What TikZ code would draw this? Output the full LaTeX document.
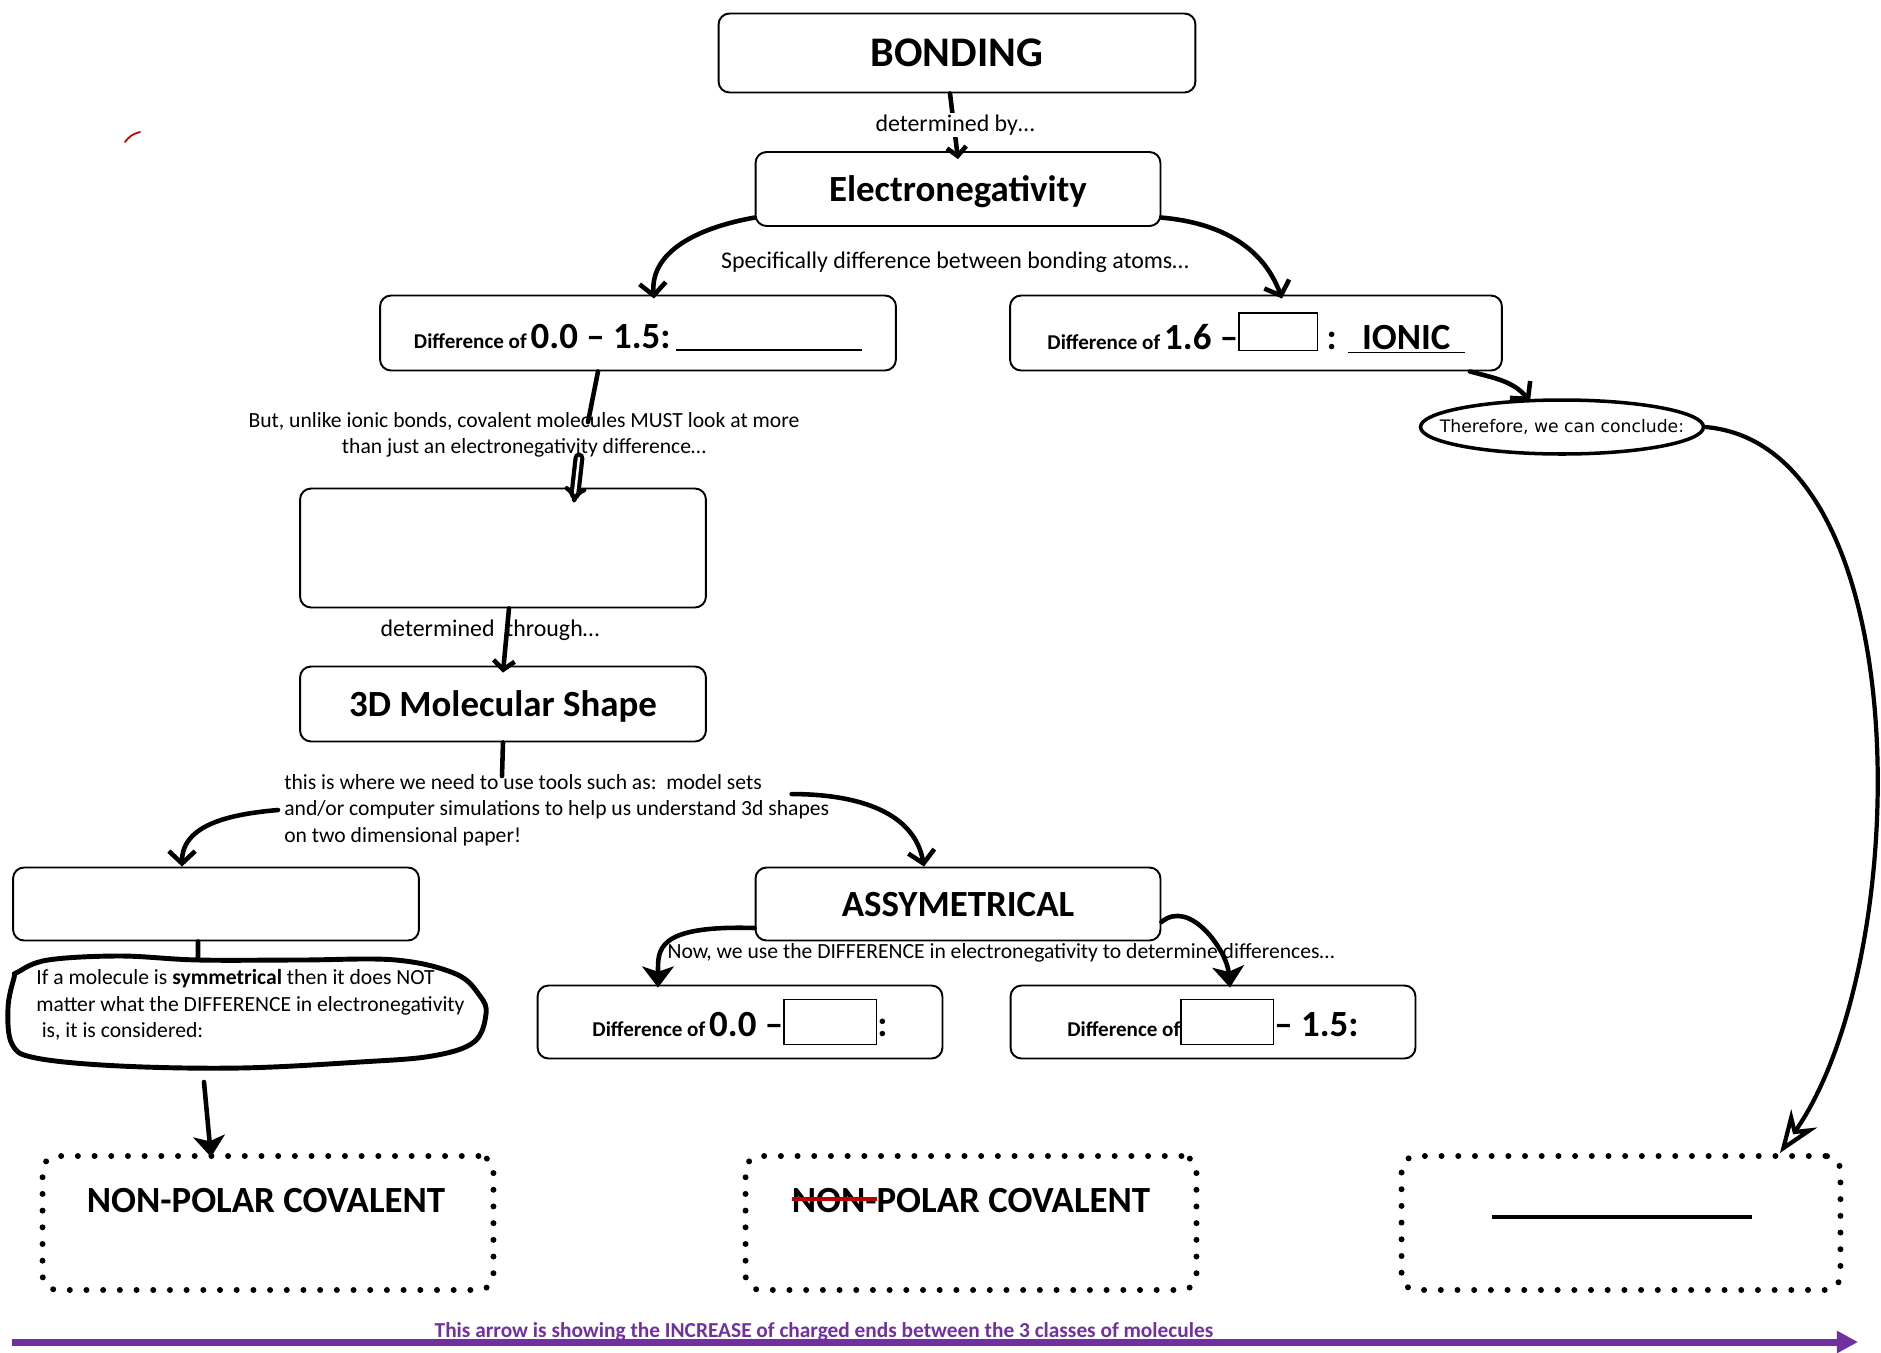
\documentclass[tikz,border=0pt]{standalone}
\usepackage{fontspec}
\setmainfont{Carlito}
\newfontfamily\dejavu{DejaVu Sans}
\usetikzlibrary{positioning,arrows.meta,shapes.geometric}
\definecolor{ArrowPurple}{HTML}{7030A0}
\definecolor{StrikeRed}{HTML}{C00000}
\newsavebox\strkbox
\newcommand\redstrike[1]{\sbox\strkbox{#1}\usebox\strkbox\llap{\textcolor{StrikeRed}{\rule[0.3em]{\wd\strkbox}{0.1em}}}}
\newcommand\fillbox[3]{{\setlength\fboxsep{0pt}\setlength\fboxrule{0.8pt}\raisebox{-#3}{\fbox{\rule{0pt}{#2}\rule{#1}{0pt}}}}}
\newcommand\diffof{{\bfseries\fontsize{12}{14}\selectfont Difference of}}
\newcommand\bignum[1]{{\bfseries\fontsize{21}{25}\selectfont #1}}

\begin{document}
\begin{tikzpicture}[
    x=0.02cm, y=-0.02cm,
    box/.style={draw, line width=1.1pt, rounded corners=0.22cm, align=center, inner sep=2pt},
    title/.style={font=\bfseries\fontsize{21}{25}\selectfont, text depth=0pt},
    body/.style={font=\fontsize{12.3}{15}\selectfont, inner sep=0pt},
    label/.style={font=\fontsize{13.6}{16}\selectfont, inner sep=0pt},
    dotbox/.style={draw, line width=3.4pt, line cap=round, dash pattern=on 0pt off 9.5pt, rounded corners=0.3cm},
    pen/.style={line width=2.6pt, line cap=round, -{Straight Barb[length=7pt,width=15pt]}},
    plainpen/.style={line width=2.6pt, line cap=round},
    dbl/.style={double, double distance=1.4pt, line width=2.4pt, line cap=round, -{Implies[length=6pt]}},
    fatpen/.style={line width=2.6pt, line cap=round, -{Stealth[length=12pt,width=18pt,inset=3pt]}},
    bigpen/.style={line width=2.4pt, line cap=round, -{Stealth[open, length=24pt, width=18pt, line width=2.4pt]}}
  ]
    \useasboundingbox (0,0) rectangle (1881,1353);

    % top of the map
    \node[box, minimum width=9.54cm, minimum height=1.58cm, font=\bfseries\fontsize{24}{29}\selectfont] (bond) at (957,53) {BONDING};
    \node[box, title, minimum width=8.10cm, minimum height=1.48cm] (eneg) at (958,189) {Electronegativity};
    \draw[pen, -{Straight Barb[length=5pt,width=11pt]}] ([xshift=-0.14cm]bond.south) -- ([yshift=-0.16cm]eneg.north);
    \node[label, fill=white, inner sep=1pt] (detby) at (955,125) {determined by…};
    \node[label] (spec) at (955,262) {Specifically difference between bonding atoms…};

    \node[box, minimum width=10.32cm, minimum height=1.5cm, text height=17.5pt, text depth=0pt] (diff1) at (638,333)
      {\diffof\ \bignum{0.0 – 1.5:} \rule[-1.5pt]{106pt}{1.3pt}};
    \node[box, minimum width=9.84cm, minimum height=1.5cm] (diff2) at (1256,333)
      {\diffof\ \bignum{1.6 –\fillbox{44pt}{20.5pt}{0pt} : \underline{\hspace{8pt}IONIC\hspace{8pt}}}};

    % covalent branch
    \node[body, align=center] (but) at (524,435) {But, unlike ionic bonds, covalent molecules MUST look at more\\than just an electronegativity difference…};
    \node[box, minimum width=8.12cm, minimum height=2.38cm] (blank) at (503,548) {};
    \node[label] (detthru) at (490,630) {determined\ \ through…};
    \node[box, title, minimum width=8.12cm, minimum height=1.5cm] (shape3d) at (503,704) {3D Molecular Shape};
    \node[body, align=left, anchor=west] (tools) at (284,810) {this is where we need to use tools such as:\ \ model sets\\and/or computer simulations to help us understand 3d shapes\\on two dimensional paper!};

    \node[box, minimum width=8.12cm, minimum height=1.46cm] (symbox) at (216,904) {};
    \node[body, align=left, anchor=west] (symtext) at (36,1005) {If a molecule is \textbf{symmetrical} then it does NOT\\matter what the DIFFERENCE in electronegativity\\\hspace*{0.25em}is, it is considered:};
    \draw[line width=2.8pt] plot[smooth cycle, tension=0.6] coordinates {(18,972) (48,960) (120,956) (198,960) (300,960) (396,960) (456,974) (480,996) (486,1014) (474,1042) (432,1056) (360,1062) (240,1068) (120,1066) (36,1058) (12,1044) (8,1008) (14,978)};
    \coordinate (blobtop) at (198,959);
    \coordinate (blobbot) at (204,1082);

    \node[box, title, minimum width=8.10cm, minimum height=1.46cm] (asym) at (958,904) {ASSYMETRICAL};
    \node[body] (nowtxt) at (1001,953) {Now, we use the DIFFERENCE in electronegativity to determine differences…};
    \node[box, minimum width=8.10cm, minimum height=1.46cm] (diff3) at (740,1022)
      {\diffof\ \bignum{0.0 –\fillbox{52pt}{25pt}{4pt}:}};
    \node[box, minimum width=8.10cm, minimum height=1.46cm] (diff4) at (1213,1022)
      {\diffof\fillbox{52pt}{25pt}{4pt}\bignum{– 1.5:}};

    % the three classes
    \node[dotbox, minimum width=9.02cm, minimum height=2.68cm] (dot1) at (268,1223) {};
    \node[dotbox, minimum width=9.02cm, minimum height=2.68cm] (dot2) at (971,1223) {};
    \node[dotbox, minimum width=8.78cm, minimum height=2.68cm] (dot3) at (1621,1223) {};
    \node[title] (npc1) at (266,1200) {NON-POLAR COVALENT};
    \node[title] (npc2) at (971,1200) {\redstrike{NON-}POLAR COVALENT};
    \node[inner sep=0pt] (blank3) at (1622,1217) {\rule{148pt}{2pt}};

    \node[ellipse, draw, line width=2pt, minimum width=5.66cm, minimum height=1.08cm, inner sep=0pt,
      font=\dejavu\fontsize{9.8}{12}\selectfont] (thus) at (1562,427) {\makebox[108pt]{Therefore, we can conclude:}};

    \coordinate (butin) at (588,422);
    \coordinate (toolsin) at (502,776);
    \coordinate (incL) at (12,1342);
    \coordinate (incR) at (1858,1342);

    % hand drawn connectors
    \draw[pen] (eneg.188) to[out=190,in=95] ([xshift=0.32cm,yshift=-0.08cm]diff1.north);
    \draw[pen] (eneg.-8) to[out=-5,in=110] ([xshift=0.52cm,yshift=-0.08cm]diff2.north);
    \draw[plainpen] ([xshift=-0.8cm]diff1.south) -- (butin);
    \draw[dbl] ([xshift=1.1cm]but.south) -- ([xshift=1.42cm,yshift=-0.3cm]blank.north);
    \draw[pen, -{Straight Barb[length=5pt,width=12pt]}] ([xshift=0.12cm]blank.south) -- ([yshift=-0.14cm]shape3d.north);
    \draw[plainpen] (shape3d.south) -- (toolsin);
    \draw[pen] ([xshift=-0.12cm]tools.west) to[out=185,in=90] ([xshift=-0.68cm]symbox.north);
    \draw[pen] ([xshift=-0.76cm,yshift=-0.4cm]tools.north east) to[out=0,in=100] ([xshift=-0.68cm]asym.north);
    \draw[plainpen] ([xshift=-0.36cm]symbox.south) -- (blobtop);
    \draw[fatpen] (blobbot) -- ([xshift=-1.14cm,yshift=-0.08cm]dot1.north);
    \draw[fatpen] ([yshift=-0.48cm]asym.west) .. controls (655,925) and (658,950) .. ([xshift=-1.64cm,yshift=-0.06cm]diff3.north);
    \draw[fatpen] ([yshift=-0.36cm]asym.east) to[out=40,in=95] ([xshift=0.34cm,yshift=-0.06cm]diff4.north);
    \draw[pen] ([xshift=4.28cm]diff2.south) to[out=-15,in=130] ([xshift=-0.64cm,yshift=-0.06cm]thus.north);
    \draw[bigpen] (thus.east) .. controls (1920,445) and (1915,960) .. ([xshift=3.18cm]dot3.north);

    % increase arrow
    \node[font=\bfseries\fontsize{12.15}{14}\selectfont, text=ArrowPurple, anchor=base, inner sep=0pt] (inctxt) at (824,1337)
      {This arrow is showing the INCREASE of charged ends between the 3 classes of molecules};
    \draw[line width=4pt, ArrowPurple, -{Triangle[length=12pt,width=12pt]}] (incL) -- (incR);

    % stray red mark
    \draw[StrikeRed, line width=1pt, line cap=round] (125,142) to[bend left=20] (140,132);
  \end{tikzpicture}
\end{document}
